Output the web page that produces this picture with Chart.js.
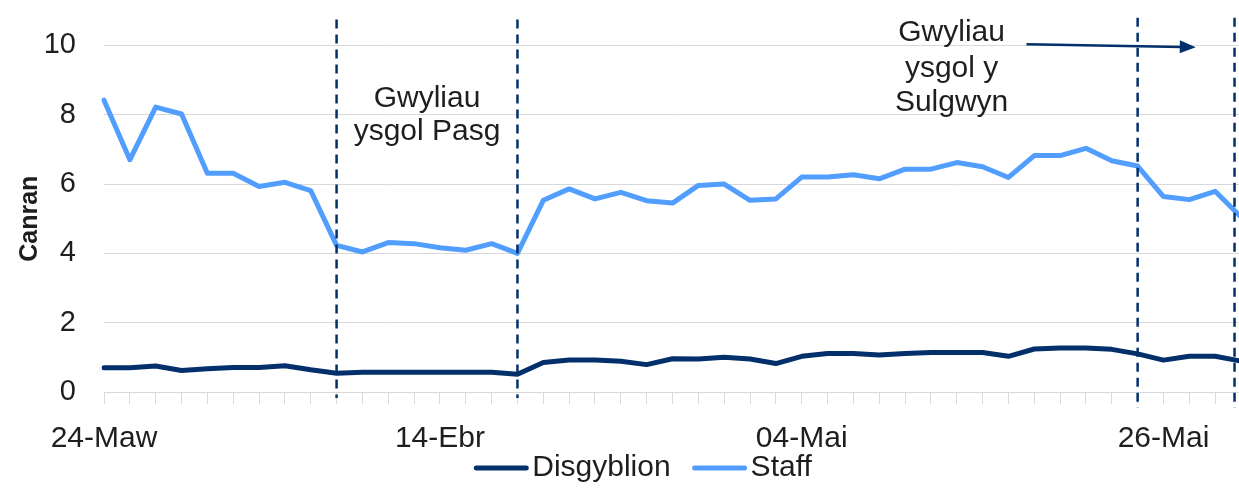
<!DOCTYPE html>
<html>
<head>
<meta charset="utf-8">
<script src="https://cdn.jsdelivr.net/npm/chart.js@4.4.1/dist/chart.umd.min.js"></script>
<style>
  html, body { margin: 0; padding: 0; background: #fff; overflow: hidden; width: 1239px; height: 489px; }
  #clip { width: 1239px; height: 489px; overflow: hidden; position: relative; }
  #chart { display: block; position: absolute; left: 0; top: 0; }
</style>
</head>
<body>
<div id="clip"><canvas id="chart" width="1250" height="489"></canvas></div>
<script>
// school weekdays (bank holidays left out)
const dates = [
  '24-Maw', '25-Maw', '26-Maw', '27-Maw', '30-Maw', '31-Maw',
  '01-Ebr', '02-Ebr', '03-Ebr', '06-Ebr', '07-Ebr', '08-Ebr', '09-Ebr',
  '14-Ebr', '15-Ebr', '16-Ebr', '17-Ebr', '20-Ebr', '21-Ebr', '22-Ebr',
  '23-Ebr', '24-Ebr', '27-Ebr', '28-Ebr', '29-Ebr', '30-Ebr',
  '01-Mai', '04-Mai', '05-Mai', '06-Mai', '07-Mai', '11-Mai', '12-Mai',
  '13-Mai', '14-Mai', '15-Mai', '18-Mai', '19-Mai', '20-Mai', '21-Mai',
  '22-Mai', '26-Mai', '27-Mai', '28-Mai', '29-Mai'
];
const pupils = [
  0.70, 0.70, 0.75, 0.62, 0.67, 0.71, 0.71, 0.76, 0.64,
  0.54, 0.57, 0.57, 0.57, 0.57, 0.57, 0.57, 0.51,
  0.85, 0.92, 0.92, 0.89, 0.79, 0.96, 0.95, 1.00, 0.95, 0.82,
  1.03, 1.11, 1.11, 1.07, 1.11, 1.14, 1.14, 1.14, 1.03,
  1.24, 1.27, 1.27, 1.23, 1.10, 0.92, 1.03, 1.03, 0.89
];
const staff = [
  8.42, 6.70, 8.22, 8.02, 6.31, 6.31, 5.93, 6.05, 5.81,
  4.23, 4.04, 4.31, 4.28, 4.16, 4.09, 4.28, 4.00,
  5.53, 5.86, 5.57, 5.76, 5.52, 5.45, 5.96, 6.00, 5.53, 5.57,
  6.20, 6.20, 6.27, 6.15, 6.43, 6.43, 6.62, 6.50, 6.19,
  6.82, 6.82, 7.03, 6.67, 6.52, 5.64, 5.55, 5.79, 5.05
];
const shownDates = ['24-Maw', '14-Ebr', '04-Mai', '26-Mai'];

// holiday markers, in x-axis index units
const easterLines = [9, 16];
const whitsunLines = [40, 43.75];
const notes = [
  { lines: ['Gwyliau', 'ysgol Pasg'], x: 12.5, y: [8.45, 7.5] },
  { lines: ['Gwyliau', 'ysgol y', 'Sulgwyn'], x: 32.8, y: [10.37, 9.34, 8.34] }
];
const arrow = { from: [35.7, 10.03], to: [42.25, 9.95] };

const navy = '#03306B';
const light = '#519EFF';
const textCol = '#1e1e1e';
const fontFam = '"Liberation Sans", Arial, sans-serif';

const extras = {
  id: 'extras',
  afterDatasetsDraw(chart) {
    const ctx = chart.ctx;
    const x = chart.scales.x, y = chart.scales.y;
    const area = chart.chartArea;
    ctx.save();
    ctx.strokeStyle = navy;
    ctx.lineWidth = 2.5;
    ctx.setLineDash([9, 6]);
    easterLines.forEach(v => {
      const px = x.getPixelForValue(v);
      ctx.beginPath();
      ctx.moveTo(px, y.getPixelForValue(10.75));
      ctx.lineTo(px, area.bottom + 6);
      ctx.stroke();
    });
    whitsunLines.forEach(v => {
      const px = x.getPixelForValue(v);
      ctx.beginPath();
      ctx.moveTo(px, y.getPixelForValue(10.8));
      ctx.lineTo(px, area.bottom + 16);
      ctx.stroke();
    });
    ctx.setLineDash([]);

    // arrow
    const x1 = x.getPixelForValue(arrow.from[0]), y1 = y.getPixelForValue(arrow.from[1]);
    const x2 = x.getPixelForValue(arrow.to[0]), y2 = y.getPixelForValue(arrow.to[1]);
    const ang = Math.atan2(y2 - y1, x2 - x1);
    ctx.lineWidth = 2.5;
    ctx.beginPath();
    ctx.moveTo(x1, y1);
    ctx.lineTo(x2 - 14 * Math.cos(ang), y2 - 14 * Math.sin(ang));
    ctx.stroke();
    ctx.fillStyle = navy;
    ctx.beginPath();
    ctx.moveTo(x2, y2);
    ctx.lineTo(x2 - 16 * Math.cos(ang) + 6.5 * Math.sin(ang), y2 - 16 * Math.sin(ang) - 6.5 * Math.cos(ang));
    ctx.lineTo(x2 - 16 * Math.cos(ang) - 6.5 * Math.sin(ang), y2 - 16 * Math.sin(ang) + 6.5 * Math.cos(ang));
    ctx.closePath();
    ctx.fill();

    // notes
    ctx.fillStyle = textCol;
    ctx.font = '30px ' + fontFam;
    ctx.textAlign = 'center';
    ctx.textBaseline = 'middle';
    notes.forEach(n => {
      const px = x.getPixelForValue(n.x);
      n.lines.forEach((t, i) => ctx.fillText(t, px, y.getPixelForValue(n.y[i])));
    });
    ctx.restore();
  },
  afterDraw(chart) {
    // legend, line markers
    const ctx = chart.ctx;
    const items = chart.data.datasets.map(d => ({ text: d.label, color: d.borderColor }));
    ctx.save();
    ctx.font = '30px ' + fontFam;
    ctx.textBaseline = 'middle';
    ctx.textAlign = 'left';
    const mark = 54, gap = 4, between = 22;
    let total = 0;
    items.forEach((it, i) => {
      it.w = ctx.measureText(it.text).width;
      total += mark + gap + it.w + (i ? between : 0);
    });
    let cx = 643 - total / 2;
    const ly = 468;
    items.forEach(it => {
      ctx.strokeStyle = it.color;
      ctx.lineWidth = 5;
      ctx.lineCap = 'round';
      ctx.beginPath();
      ctx.moveTo(cx + 2, ly);
      ctx.lineTo(cx + mark - 2, ly);
      ctx.stroke();
      ctx.fillStyle = textCol;
      ctx.fillText(it.text, cx + mark + gap, ly);
      cx += mark + gap + it.w + between;
    });
    ctx.restore();
  }
};

new Chart(document.getElementById('chart'), {
  type: 'line',
  data: {
    labels: dates,
    datasets: [
      {
        label: 'Disgyblion', data: pupils, borderColor: navy, backgroundColor: navy,
        borderWidth: 5, pointRadius: 0, tension: 0,
        borderJoinStyle: 'round', borderCapStyle: 'round'
      },
      {
        label: 'Staff', data: staff, borderColor: light, backgroundColor: light,
        borderWidth: 5, pointRadius: 0, tension: 0,
        borderJoinStyle: 'round', borderCapStyle: 'round'
      }
    ]
  },
  options: {
    responsive: false,
    animation: false,
    layout: { padding: { left: 15, right: 9, top: 43, bottom: 37 } },
    plugins: { legend: { display: false }, tooltip: { enabled: false } },
    scales: {
      x: {
        offset: false,
        grid: { drawOnChartArea: false, drawTicks: true, tickLength: 12, color: '#d9d9d9' },
        border: { color: '#d9d9d9' },
        ticks: {
          autoSkip: false, maxRotation: 0, minRotation: 0, padding: 17,
          color: textCol, font: { family: fontFam, size: 30 },
          callback(v, i) { return shownDates.includes(dates[i]) ? dates[i] : ''; }
        },
        afterFit(s) { s.height = 60; s.paddingLeft = 0; s.paddingRight = 0; }
      },
      y: {
        min: 0, max: 10,
        ticks: { stepSize: 2, padding: 28, color: textCol, font: { family: fontFam, size: 29 } },
        grid: { color: '#d9d9d9', drawTicks: false, tickLength: 0 },
        border: { display: false },
        title: {
          display: true, text: 'Canran', color: textCol, padding: 0,
          font: { family: fontFam, size: 25, weight: 'bold' }
        },
        afterFit(s) { s.width = 89; }
      }
    }
  },
  plugins: [extras]
});
</script>
</body>
</html>
